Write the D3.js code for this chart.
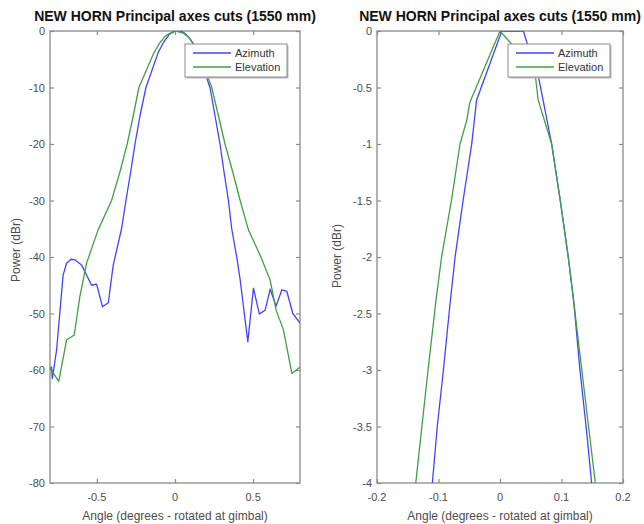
<!DOCTYPE html>
<html>
<head>
<meta charset="utf-8">
<script src="https://cdn.jsdelivr.net/npm/d3@7"></script>
<style>
  body { margin: 0; background: #fff; }
  svg { display: block; font-family: 'Liberation Sans', Arial, sans-serif; }
  .tick-label { fill: #4d4d4d; font-size: 11px; }
  .axis-label { fill: #4d4d4d; font-size: 12px; }
  .title { fill: #111; font-size: 14px; font-weight: bold; }
  .legend text { fill: #333; font-size: 11px; }
</style>
</head>
<body>
<div id="vis"></div>
<script>
// azimuth cut (degrees, dBr)
const azimuthAngle = [-0.8, -0.79, -0.785, -0.758, -0.716, -0.694, -0.665, -0.641, -0.598, -0.534, -0.502,
  -0.464, -0.427, -0.395, -0.342, -0.314, -0.284, -0.256, -0.224, -0.186, -0.11, -0.102, -0.092, -0.081,
  -0.073, -0.06, -0.046, -0.038, 0.003, 0.038, 0.043, 0.063, 0.07, 0.084, 0.098, 0.111, 0.12, 0.13, 0.14,
  0.149, 0.224, 0.256, 0.288, 0.314, 0.342, 0.363, 0.395, 0.417, 0.466, 0.502, 0.54, 0.577, 0.609, 0.647,
  0.684, 0.716, 0.754, 0.8]
const azimuthPower = [-60, -59.5, -61.5, -56.5, -43.2, -41.1, -40.4, -40.5, -41.4, -45, -44.8,
  -48.8, -48.1, -41.4, -35, -30, -25, -20, -15, -10, -4, -3.5, -3, -2.4,
  -2, -1.5, -1, -0.61, 0, 0, -0.09, -0.42, -0.61, -1, -1.5, -2, -2.4, -3, -3.5,
  -4, -10, -15, -20, -25, -30, -35, -40, -44, -55, -45.5, -50.1, -49.4, -45.7, -48.7,
  -45.8, -46.1, -50, -51.7]

// elevation cut (degrees, dBr)
const elevationAngle = [-0.8, -0.78, -0.744, -0.694, -0.645, -0.609, -0.566, -0.492, -0.406, -0.353,
  -0.306, -0.267, -0.231, -0.137, -0.127, -0.117, -0.104, -0.095, -0.079, -0.065, -0.054, -0.049, 0,
  0.018, 0.058, 0.062, 0.084, 0.098, 0.111, 0.12, 0.133, 0.144, 0.155, 0.235, 0.278, 0.32, 0.37, 0.417,
  0.47, 0.55, 0.609, 0.647, 0.694, 0.748, 0.79, 0.8]
const elevationPower = [-59.5, -60.5, -62, -54.7, -53.8, -47, -41.1, -35.2, -30, -25,
  -20, -15, -10, -4, -3.5, -3, -2.38, -2, -1.5, -1, -0.79, -0.63, 0,
  -0.11, -0.42, -0.61, -1, -1.5, -2, -2.4, -3, -3.5, -4, -10, -15, -20, -25, -30,
  -35.2, -40, -44.1, -49.4, -52.9, -60.6, -59.7, -59.5]

const titleText = 'NEW HORN Principal axes cuts (1550 mm)'
const xLabel = 'Angle (degrees - rotated at gimbal)'
const yLabel = 'Power (dBr)'
const legendNames = ['Azimuth', 'Elevation']
const colors = ['#4343f8', '#40a040']

const leftXTicks = [-0.5, 0, 0.5]
const leftYTicks = [0, -10, -20, -30, -40, -50, -60, -70, -80]
const rightXTicks = [-0.2, -0.1, 0, 0.1, 0.2]
const rightYTicks = [0, -0.5, -1, -1.5, -2, -2.5, -3, -3.5, -4]

const width = 644
const height = 524

const series = [
  azimuthAngle.map((a, i) => ({ x: a, y: azimuthPower[i] })),
  elevationAngle.map((a, i) => ({ x: a, y: elevationPower[i] }))
]

const svg = d3.select('#vis').append('svg')
  .attr('width', width).attr('height', height)

const panels = [
  { id: 'l', left: 50, right: 300, xDomain: [-0.8, 0.8], yDomain: [-80, 0], xTicks: leftXTicks, yTicks: leftYTicks, yLabelX: 16, yLabelY: 250 },
  { id: 'r', left: 377, right: 623, xDomain: [-0.2, 0.2], yDomain: [-4, 0], xTicks: rightXTicks, yTicks: rightYTicks, yLabelX: 337, yLabelY: 256 }
]
const plotTop = 31
const plotBottom = 483

panels.forEach((p) => {
  const x = d3.scaleLinear().domain(p.xDomain).range([p.left, p.right])
  const y = d3.scaleLinear().domain(p.yDomain).range([plotBottom, plotTop])
  const w = p.right - p.left
  const h = plotBottom - plotTop

  svg.append('clipPath').attr('id', 'clip-' + p.id)
    .append('rect').attr('x', p.left).attr('y', plotTop).attr('width', w).attr('height', h)

  // ticks inside the box, mirrored on all sides
  const tickLen = 4
  const axes = [
    d3.axisBottom(x).tickValues(p.xTicks).tickSizeInner(-tickLen).tickSizeOuter(0).tickFormat(''),
    d3.axisTop(x).tickValues(p.xTicks).tickSizeInner(-tickLen).tickSizeOuter(0).tickFormat(''),
    d3.axisLeft(y).tickValues(p.yTicks).tickSizeInner(-tickLen).tickSizeOuter(0).tickFormat(''),
    d3.axisRight(y).tickValues(p.yTicks).tickSizeInner(-tickLen).tickSizeOuter(0).tickFormat('')
  ]
  const shifts = [`0,${plotBottom}`, `0,${plotTop}`, `${p.left},0`, `${p.right},0`]
  axes.forEach((ax, i) => {
    const g = svg.append('g').attr('transform', `translate(${shifts[i]})`).call(ax)
    g.select('.domain').remove()
    g.selectAll('line').attr('stroke', '#8a8a8a').attr('stroke-width', 1.2)
  })

  svg.append('rect')
    .attr('x', p.left).attr('y', plotTop).attr('width', w).attr('height', h)
    .attr('fill', 'none').attr('stroke', '#8a8a8a').attr('stroke-width', 1.3)

  svg.selectAll(null).data(p.xTicks).enter().append('text')
    .attr('class', 'tick-label')
    .attr('x', (d) => x(d)).attr('y', plotBottom + 18)
    .attr('text-anchor', 'middle')
    .text((d) => String(d))

  svg.selectAll(null).data(p.yTicks).enter().append('text')
    .attr('class', 'tick-label')
    .attr('x', p.left - 5).attr('y', (d) => y(d) + 4)
    .attr('text-anchor', 'end')
    .text((d) => String(d))

  const line = d3.line().x((d) => x(d.x)).y((d) => y(d.y))
  series.forEach((s, i) => {
    svg.append('path')
      .attr('d', line(s))
      .attr('fill', 'none')
      .attr('stroke', colors[i])
      .attr('stroke-width', 1.3)
      .attr('stroke-linejoin', 'round')
      .attr('clip-path', `url(#clip-${p.id})`)
  })

  svg.append('text').attr('class', 'title')
    .attr('x', (p.left + p.right) / 2).attr('y', 21)
    .attr('text-anchor', 'middle')
    .text(titleText)

  svg.append('text').attr('class', 'axis-label')
    .attr('x', (p.left + p.right) / 2).attr('y', 520)
    .attr('text-anchor', 'middle')
    .text(xLabel)

  svg.append('text').attr('class', 'axis-label')
    .attr('transform', `translate(${p.yLabelX},${p.yLabelY}) rotate(-90)`)
    .attr('text-anchor', 'middle')
    .attr('dy', '0.35em')
    .text(yLabel)

  // legend box in the upper right corner
  const legend = svg.append('g').attr('class', 'legend')
    .attr('transform', `translate(${p.right - 115},44)`)
  legend.append('rect')
    .attr('x', 1.5).attr('y', 1.5).attr('width', 102).attr('height', 33)
    .attr('fill', '#bbb')
  legend.append('rect')
    .attr('width', 102).attr('height', 33)
    .attr('fill', '#fff').attr('stroke', '#8a8a8a').attr('stroke-width', 1)
  legendNames.forEach((name, i) => {
    const ly = 9 + i * 14
    legend.append('line')
      .attr('x1', 8).attr('x2', 46).attr('y1', ly).attr('y2', ly)
      .attr('stroke', colors[i]).attr('stroke-width', 1.3)
    legend.append('text')
      .attr('x', 50).attr('y', ly + 4)
      .text(name)
  })
})
</script>
</body>
</html>
